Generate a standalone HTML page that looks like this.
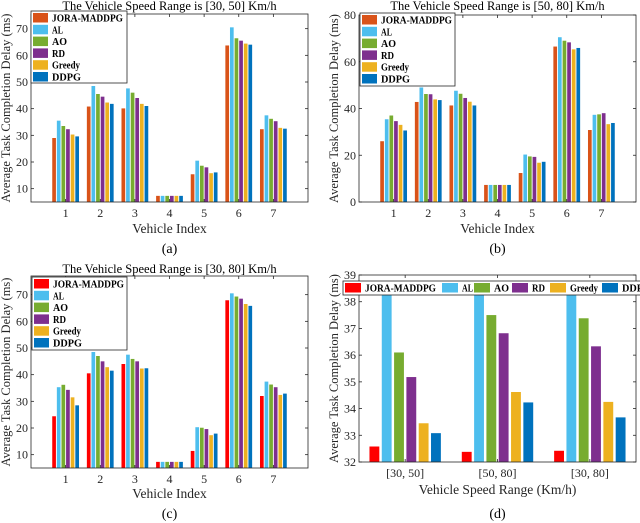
<!DOCTYPE html>
<html><head><meta charset="utf-8">
<style>
html,body{margin:0;padding:0;background:#fff;}
svg{display:block;}
text{font-family:"Liberation Serif","Times New Roman",serif;}
</style></head>
<body>
<svg id="fig" width="640" height="523" viewBox="0 0 640 523" xmlns="http://www.w3.org/2000/svg" font-family="Liberation Serif, serif"></svg>
<script>
const seriesNames = ["JORA-MADDPG","AL","AO","RD","Greedy","DDPG"];
const colorsAB = ["#d95319","#4dbeee","#77ac30","#7e2f8e","#edb120","#0072bd"];
const colorsCD = ["#ff0000","#4dbeee","#77ac30","#7e2f8e","#edb120","#0072bd"];
const vehicleCats = ["1","2","3","4","5","6","7"];
// panel (a) [30,50]
const a_jora  = [29.0,40.8,40.1,7.3,15.4,63.7,32.3];
const a_al    = [35.5,48.5,47.6,7.3,20.5,70.5,37.5];
const a_ao    = [33.5,45.5,46.0,7.3,18.6,66.4,36.2];
const a_rd    = [32.3,44.5,44.0,7.3,18.0,65.5,35.3];
const a_greedy= [30.3,42.3,41.8,7.3,15.8,64.4,32.8];
const a_ddpg  = [29.6,41.8,41.0,7.3,16.1,64.0,32.5];
// panel (b) [50,80]
const b_jora  = [26.0,42.8,41.3,7.3,12.4,66.5,30.8];
const b_al    = [35.4,49.0,47.6,7.3,20.3,70.5,37.3];
const b_ao    = [37.0,46.2,46.3,7.3,19.5,69.0,37.5];
const b_rd    = [34.6,46.1,44.5,7.3,19.3,68.3,38.0];
const b_greedy= [33.0,43.9,42.9,7.3,16.8,65.3,33.3];
const b_ddpg  = [30.6,43.6,41.3,7.3,17.2,65.9,33.8];
// panel (c) [30,80]
const c_jora  = [24.4,40.5,44.0,7.3,11.4,67.9,32.0];
const c_al    = [35.3,48.5,47.5,7.3,20.3,70.5,37.4];
const c_ao    = [36.2,47.0,45.9,7.3,20.1,69.3,36.3];
const c_rd    = [34.3,45.0,45.0,7.3,19.6,68.5,35.3];
const c_greedy= [31.5,42.8,42.3,7.3,17.3,66.5,32.4];
const c_ddpg  = [28.5,41.5,42.4,7.3,17.9,65.8,32.9];
// panel (d) averages
const rangeCats = ["[30, 50]","[50, 80]","[30, 80]"];
const d_jora  = [32.58,32.38,32.42];
const d_al    = [38.6,38.6,38.6];
const d_ao    = [36.10,37.50,37.38];
const d_rd    = [35.18,36.82,36.33];
const d_greedy= [33.45,34.62,34.25];
const d_ddpg  = [33.08,34.23,33.67];
const ticksA = [10,20,30,40,50,60,70];
const ticksB = [0,20,40,60,80];
const ticksC = [10,20,30,40,50,60,70];
const ticksD = [32,33,34,35,36,37,38,39];
const legendTextW = [71,11,15,13,28,29];

const NS="http://www.w3.org/2000/svg";
const svg=document.getElementById('fig');
const FF='Liberation Serif, serif';
function mk(tag,attrs,parent,text){const e=document.createElementNS(NS,tag);for(const k in attrs)e.setAttribute(k,attrs[k]);if(tag==='text')e.setAttribute('font-family',FF);if(text!==undefined)e.textContent=text;(parent||svg).appendChild(e);return e;}

function panel(o){
  const g=mk('g',{});
  
  
  const {x0,x1,y0,y1,ymin,ymax,xmin,xmax}=o;
  const sx=v=>x0+(v-xmin)/(xmax-xmin)*(x1-x0);
  const sy=v=>y1-(v-ymin)/(ymax-ymin)*(y1-y0);
  const n=o.series.length, groupW=0.8, pitch=groupW/n;
  const cp=mk('clipPath',{id:o.clip},g);mk('rect',{x:x0,y:y0,width:x1-x0,height:y1-y0},cp);
  const bars=mk('g',{'clip-path':'url(#'+o.clip+')'},g);
  o.series.forEach((s,si)=>{
    s.forEach((v,ci)=>{
      const c=ci+1-groupW/2+pitch*si+pitch*0.1;
      const bx=sx(c), bw=sx(c+pitch*0.8)-bx;
      const top=sy(Math.min(v,ymax+1));
      const r=mk('rect',{x:bx,y:top,width:bw,height:y1-top,fill:o.colors[si]},bars);
      
      
    });
  });
  const box=mk('rect',{x:x0,y:y0,width:x1-x0,height:y1-y0,fill:'none',stroke:'#262626','stroke-width':0.8},g);
  
  
  o.yticks.forEach(t=>{
    const y=sy(t);
    mk('line',{x1:x0,x2:x0+3,y1:y,y2:y,stroke:'#262626','stroke-width':0.8},g);
    mk('line',{x1:x1,x2:x1-3,y1:y,y2:y,stroke:'#262626','stroke-width':0.8},g);
    const tl=mk('text',{x:x0-3,y:y+4,'font-size':12,'text-anchor':'end',fill:'#262626'},g,String(t));
    
    
  });
  o.cats.forEach((c,i)=>{
    const x=sx(i+1);
    mk('line',{x1:x,x2:x,y1:y1,y2:y1-3,stroke:'#262626','stroke-width':0.8},g);
    mk('line',{x1:x,x2:x,y1:y0,y2:y0+3,stroke:'#262626','stroke-width':0.8},g);
    const tl=mk('text',{x:x,y:y1+15,'font-size':12,'text-anchor':'middle',fill:'#262626'},g,c);
    
    
  });
  if(o.title){const t=mk('text',{x:(x0+x1)/2,y:o.titleY,'font-size':12.5,'text-anchor':'middle',fill:'#000'},g,o.title);
    }
  const yl=mk('text',{x:0,y:0,'font-size':12.5,'text-anchor':'middle',fill:'#262626',transform:'translate('+o.ylabX+','+((y0+y1)/2)+') rotate(-90)'},g,'Average Task Completion Delay (ms)');
  
  const xl=mk('text',{x:(x0+x1)/2,y:o.xlabY,'font-size':13.5,'text-anchor':'middle',fill:'#262626'},g,o.xlabel);
  
  const cap=mk('text',{x:(x0+x1)/2,y:o.capY,'font-size':14,'text-anchor':'middle',fill:'#000'},g,o.caption);
  
  const L=o.legend;
  const lg=mk('g',{},g);
  
  
  mk('rect',{x:L.x,y:L.y,width:L.w,height:L.h,fill:'#fff',stroke:'#262626','stroke-width':0.8},lg);
  seriesNames.forEach((nm,i)=>{
    let ex,ey;
    if(L.horiz){ex=L.x+L.xs[i];ey=L.y+2;}else{ex=L.x+2;ey=L.y+2+i*11.8;}
    const e=mk('g',{},lg);
    
    
    mk('rect',{x:ex,y:ey,width:L.sw,height:9.5,fill:o.colors[i]},e);
    mk('text',{x:ex+L.sw+4,y:ey+8.5,'font-size':11,'font-weight':'bold',fill:'#000',textLength:legendTextW[i],lengthAdjust:'spacingAndGlyphs'},e,nm);
  });
}
panel({name:'chart-a',clip:'ca',x0:31,x1:308,y0:14,y1:202,xmin:0,xmax:8,ymin:5,ymax:75.5,
  series:[a_jora,a_al,a_ao,a_rd,a_greedy,a_ddpg],colors:colorsAB,yticks:ticksA,cats:vehicleCats,
  title:'The Vehicle Speed Range is [30, 50] Km/h',titleY:10,ylabX:10,xlabel:'Vehicle Index',xlabY:233,caption:'(a)',capY:253,
  legend:{x:31,y:11,w:96,h:72,sw:15}});
panel({name:'chart-b',clip:'cb',x0:359,x1:636,y0:15,y1:202,xmin:0,xmax:8,ymin:0,ymax:80,
  series:[b_jora,b_al,b_ao,b_rd,b_greedy,b_ddpg],colors:colorsAB,yticks:ticksB,cats:vehicleCats,
  title:'The Vehicle Speed Range is [50, 80] Km/h',titleY:10,ylabX:338,xlabel:'Vehicle Index',xlabY:233,caption:'(b)',capY:253,
  legend:{x:360,y:13,w:95,h:73,sw:15}});
panel({name:'chart-c',clip:'cc',x0:31,x1:308,y0:276,y1:468,xmin:0,xmax:8,ymin:5,ymax:77,
  series:[c_jora,c_al,c_ao,c_rd,c_greedy,c_ddpg],colors:colorsCD,yticks:ticksC,cats:vehicleCats,
  title:'The Vehicle Speed Range is [30, 80] Km/h',titleY:273,ylabX:10,xlabel:'Vehicle Index',xlabY:498,caption:'(c)',capY:518,
  legend:{x:32,y:277,w:95,h:73,sw:15}});
panel({name:'chart-d',clip:'cd',x0:359,x1:636,y0:275,y1:462,xmin:0.5,xmax:3.5,ymin:32,ymax:39,
  series:[d_jora,d_al,d_ao,d_rd,d_greedy,d_ddpg],colors:colorsCD,yticks:ticksD,cats:rangeCats,
  title:'',ylabX:338,xlabel:'Vehicle Speed Range (Km/h)',xlabY:494,caption:'(d)',capY:518,
  legend:{x:343,y:281,w:300,h:14,sw:16,horiz:true,xs:[2,99,131,169,207,259]}});
</script>
</body></html>
